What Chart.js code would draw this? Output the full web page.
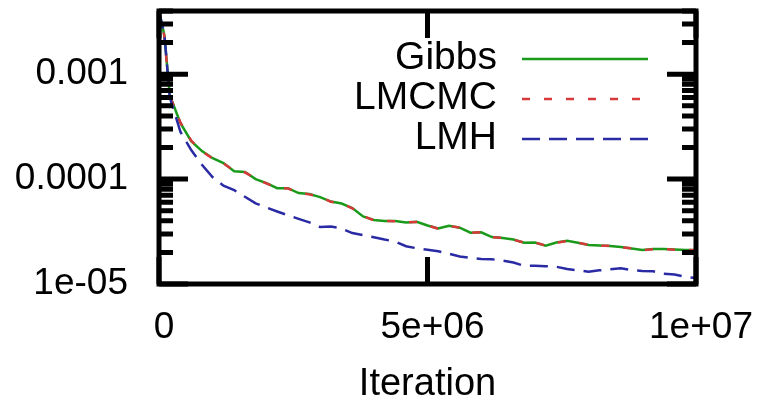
<!DOCTYPE html>
<html>
<head>
<meta charset="utf-8">
<script src="https://cdn.jsdelivr.net/npm/chart.js@4.4.1/dist/chart.umd.min.js"></script>
<style>
  html, body { margin: 0; padding: 0; background: #fff; }
  #wrap { width: 761px; height: 404px; }
</style>
</head>
<body>
<div id="wrap"><canvas id="errChart" width="761" height="404"></canvas></div>
<script>
const iterations = [0, 1e5, 2e5, 4e5, 6e5, 8e5, 1e6, 1.2e6, 1.4e6, 1.6e6, 1.8e6,
    2e6, 2.2e6, 2.4e6, 2.6e6, 2.8e6, 3e6, 3.2e6, 3.4e6, 3.6e6, 3.8e6,
    4e6, 4.2e6, 4.4e6, 4.6e6, 4.8e6, 5e6, 5.2e6, 5.4e6, 5.6e6, 5.8e6,
    6e6, 6.2e6, 6.4e6, 6.6e6, 6.8e6, 7e6, 7.2e6, 7.4e6, 7.6e6, 7.8e6,
    8e6, 8.2e6, 8.4e6, 8.6e6, 8.8e6, 9e6, 9.2e6, 9.4e6, 9.6e6, 9.8e6, 1e7];

const gibbs = [0.0040, 0.00235, 0.000631, 0.000341, 0.000230, 0.000185, 0.000158, 0.000142, 0.000119, 0.000117, 0.000100,
    9.16e-5, 8.20e-5, 8.20e-5, 7.36e-5, 7.20e-5, 6.74e-5, 6.11e-5, 5.85e-5, 5.30e-5, 4.40e-5,
    4.07e-5, 3.98e-5, 3.98e-5, 3.85e-5, 3.92e-5, 3.61e-5, 3.38e-5, 3.59e-5, 3.44e-5, 3.08e-5,
    3.11e-5, 2.80e-5, 2.74e-5, 2.65e-5, 2.47e-5, 2.49e-5, 2.32e-5, 2.49e-5, 2.58e-5, 2.47e-5,
    2.35e-5, 2.33e-5, 2.30e-5, 2.25e-5, 2.18e-5, 2.11e-5, 2.15e-5, 2.15e-5, 2.13e-5, 2.11e-5, 2.11e-5];

const lmcmc = [0.0040, 0.00230, 0.000625, 0.000345, 0.000232, 0.000184, 0.000157, 0.000141, 0.000120, 0.000116, 0.000101,
    9.10e-5, 8.25e-5, 8.15e-5, 7.40e-5, 7.15e-5, 6.78e-5, 6.08e-5, 5.88e-5, 5.27e-5, 4.43e-5,
    4.05e-5, 4.00e-5, 3.96e-5, 3.87e-5, 3.90e-5, 3.63e-5, 3.36e-5, 3.57e-5, 3.46e-5, 3.07e-5,
    3.12e-5, 2.79e-5, 2.75e-5, 2.64e-5, 2.48e-5, 2.48e-5, 2.33e-5, 2.48e-5, 2.57e-5, 2.48e-5,
    2.36e-5, 2.32e-5, 2.31e-5, 2.24e-5, 2.19e-5, 2.10e-5, 2.14e-5, 2.16e-5, 2.12e-5, 2.11e-5, 2.10e-5];

const lmh = [0.0040, 0.00240, 0.000604, 0.000281, 0.000189, 0.000137, 0.000104, 8.65e-5, 7.85e-5, 6.78e-5, 5.87e-5,
    5.36e-5, 4.91e-5, 4.52e-5, 4.18e-5, 3.87e-5, 3.49e-5, 3.53e-5, 3.38e-5, 3.06e-5, 2.93e-5,
    2.79e-5, 2.65e-5, 2.54e-5, 2.29e-5, 2.19e-5, 2.12e-5, 2.05e-5, 1.94e-5, 1.83e-5, 1.77e-5,
    1.73e-5, 1.72e-5, 1.67e-5, 1.60e-5, 1.49e-5, 1.49e-5, 1.48e-5, 1.46e-5, 1.39e-5, 1.35e-5,
    1.31e-5, 1.35e-5, 1.38e-5, 1.41e-5, 1.36e-5, 1.33e-5, 1.32e-5, 1.25e-5, 1.23e-5, 1.17e-5, 1.14e-5];

const xTickValues = [0, 5e6, 1e7];
const xTickLabels = ['0', '5e+06', '1e+07'];
const yTickValues = [1e-5, 1e-4, 1e-3];
const yTickLabels = ['1e-05', '0.0001', '0.001'];

const FONT = '"Liberation Sans", Arial, Helvetica, sans-serif';

function points(values) {
    return iterations.map((it, i) => ({x: it, y: values[i]}));
}

// gnuplot look: thick frame, ticks pointing inward on all four sides, legend top right
const framePlugin = {
    id: 'frame',
    afterDatasetsDraw(chart) {
        const ctx = chart.ctx;
        const a = chart.chartArea;
        const xs = chart.scales.x, ys = chart.scales.y;
        ctx.save();
        ctx.strokeStyle = '#000';
        ctx.lineWidth = 5;
        ctx.lineCap = 'butt';
        ctx.strokeRect(a.left, a.top, a.right - a.left, a.bottom - a.top);

        ctx.beginPath();
        xTickValues.forEach(v => {
            const px = xs.getPixelForValue(v);
            ctx.moveTo(px, a.bottom); ctx.lineTo(px, a.bottom - 27);
            ctx.moveTo(px, a.top); ctx.lineTo(px, a.top + 27);
        });
        for (let d = -5; d <= -3; d++) {
            for (let m = 1; m <= 9; m++) {
                const v = m * Math.pow(10, d);
                if (v > ys.max * 1.0001) break;
                const py = ys.getPixelForValue(v);
                const len = m === 1 ? 29 : 14;
                ctx.moveTo(a.left, py); ctx.lineTo(a.left + len, py);
                ctx.moveTo(a.right, py); ctx.lineTo(a.right - len, py);
            }
        }
        ctx.stroke();

        // legend
        const rows = [59, 99, 139];
        ctx.font = '39px ' + FONT;
        ctx.textAlign = 'right';
        ctx.textBaseline = 'middle';
        chart.data.datasets.forEach((ds, i) => {
            const y = rows[i];
            ctx.fillStyle = '#000';
            ctx.fillText(ds.label, 497, y - 1);
            ctx.strokeStyle = ds.borderColor;
            ctx.lineWidth = ds.borderWidth;
            ctx.setLineDash(ds.borderDash || []);
            ctx.beginPath();
            ctx.moveTo(522, y);
            ctx.lineTo(648, y);
            ctx.stroke();
        });
        ctx.setLineDash([]);
        ctx.restore();
    }
};

function noPad(s) {
    s.paddingTop = 0; s.paddingBottom = 0; s.paddingLeft = 0; s.paddingRight = 0;
}

const ctx = document.getElementById('errChart').getContext('2d');
new Chart(ctx, {
    type: 'line',
    data: {
        datasets: [
            {label: 'Gibbs', data: points(gibbs), borderColor: '#1a9a1a', borderWidth: 2.5, order: 2},
            {label: 'LMCMC', data: points(lmcmc), borderColor: '#d8393c', borderWidth: 2.5, borderDash: [8, 14], order: 1},
            {label: 'LMH', data: points(lmh), borderColor: '#2a2aa5', borderWidth: 2.5, borderDash: [18, 9], order: 0}
        ]
    },
    options: {
        responsive: false,
        animation: false,
        layout: {padding: {top: 11, right: 65, left: 0, bottom: 0}},
        elements: {point: {radius: 0}, line: {tension: 0, fill: false}},
        plugins: {legend: {display: false}, tooltip: {enabled: false}},
        scales: {
            x: {
                type: 'linear', min: 0, max: 1e7,
                grid: {display: false, drawTicks: false},
                border: {display: false},
                afterBuildTicks: s => { s.ticks = xTickValues.map(v => ({value: v})); },
                ticks: {
                    callback: (v) => xTickLabels[xTickValues.indexOf(v)],
                    font: {family: FONT, size: 37}, color: '#000',
                    padding: 22, labelOffset: 5, maxRotation: 0, autoSkip: false
                },
                title: {display: true, text: 'Iteration', font: {family: FONT, size: 38}, color: '#000', padding: {top: 0, bottom: -3}},
                afterFit: s => { s.height = 120; noPad(s); }
            },
            y: {
                type: 'logarithmic', min: 1e-5, max: 0.004,
                grid: {display: false, drawTicks: false},
                border: {display: false},
                afterBuildTicks: s => { s.ticks = yTickValues.map(v => ({value: v})); },
                ticks: {
                    callback: (v) => yTickLabels[yTickValues.indexOf(v)],
                    font: {family: FONT, size: 37}, color: '#000',
                    padding: 31, autoSkip: false
                },
                afterFit: s => { s.width = 159; noPad(s); }
            }
        }
    },
    plugins: [framePlugin]
});
</script>
</body>
</html>
